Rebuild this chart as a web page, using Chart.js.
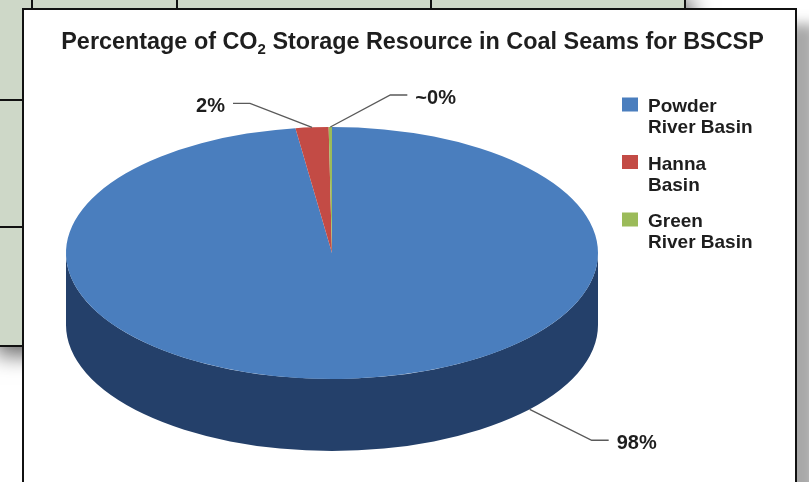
<!DOCTYPE html>
<html>
<head>
<meta charset="utf-8">
<title>CO2 Storage Resource in Coal Seams for BSCSP</title>
<script src="https://cdn.jsdelivr.net/npm/chart.js@4.4.1/dist/chart.umd.min.js"></script>
<style>
  html, body { margin: 0; padding: 0; }
  body {
    width: 809px; height: 482px; overflow: hidden; position: relative;
    background: #fff; font-family: "Liberation Sans", Arial, sans-serif;
  }
  /* the report table lying behind the figure */
  .table {
    position: absolute; left: -10px; top: -10px; width: 696px; height: 357px;
    box-sizing: border-box; background: #ced8c8; border: 2px solid #111;
    box-shadow: 6px 8px 20px rgba(0, 0, 0, 0.6);
  }
  .vline { position: absolute; top: 0; width: 2px; height: 24px; background: #111; }
  .hline { position: absolute; left: 0; width: 40px; height: 2px; background: #111; }
  .box {
    position: absolute; left: 22px; top: 8px; width: 775px; height: 520px;
    box-sizing: border-box; background: #fff; border: 2px solid #111;
    box-shadow: 20px 16px 12px rgba(0, 0, 0, 0.34);
  }
  .box canvas { position: absolute; left: 0; top: 0; }
</style>
</head>
<body>
<div class="table">
  <div class="vline" style="left:39px"></div>
  <div class="vline" style="left:184px"></div>
  <div class="vline" style="left:438px"></div>
  <div class="hline" style="top:107px"></div>
  <div class="hline" style="top:234px"></div>
</div>
<div class="box">
  <canvas id="chart" width="771" height="472"></canvas>
</div>
<script>
// Share of the coal-seam CO2 storage resource by basin (percent)
const basins = [['Powder', 'River Basin'], ['Hanna', 'Basin'], ['Green', 'River Basin']];
const shares = [98, 2, 0.2];

const topColors = ['#4a7ebe', '#c34b45', '#9bbb59'];
const sideColors = ['#24406a', '#7a2a27', '#5f7a30'];
const inkColor = '#1e1e1e';

const DEPTH = 72;                       // thickness of the pie wall
const calloutAngles = [42, null, null]; // degrees on the base rim; null = slice middle on top rim
const calloutOffsets = [[62, 31], [-62, -24], [60, -32]];

function percentText(v) {
  return v < 0.5 ? '~0%' : Math.round(v) + '%';
}

function pieGeometry(chart) {
  const area = chart.chartArea;
  const rx = (area.right - area.left) / 2;
  const ry = (area.bottom - area.top - DEPTH) / 2;
  return { cx: (area.left + area.right) / 2, cy: area.top + ry, rx: rx, ry: ry };
}

// squash the library's circular pie into the tilted ellipse
function tilt(ctx, chart, g) {
  const arc = chart.getDatasetMeta(0).data[0];
  ctx.translate(g.cx, g.cy);
  ctx.scale(g.rx / arc.outerRadius, g.ry / arc.outerRadius);
  ctx.translate(-arc.x, -arc.y);
}

const pie3d = {
  id: 'pie3d',
  beforeDatasetsDraw(chart) {
    const ctx = chart.ctx;
    const g = pieGeometry(chart);
    const arcs = chart.getDatasetMeta(0).data;
    // wall: only the front half (0..PI) of each slice can be seen
    arcs.forEach((arc, i) => {
      [-2 * Math.PI, 0, 2 * Math.PI].forEach(off => {
        const lo = Math.max(arc.startAngle, off);
        const hi = Math.min(arc.endAngle, off + Math.PI);
        if (hi <= lo) return;
        ctx.beginPath();
        ctx.ellipse(g.cx, g.cy, g.rx, g.ry, 0, lo, hi);
        ctx.ellipse(g.cx, g.cy + DEPTH, g.rx, g.ry, 0, hi, lo, true);
        ctx.closePath();
        ctx.fillStyle = sideColors[i];
        ctx.fill();
      });
    });
    // top face is drawn by Chart.js inside this transform
    ctx.save();
    tilt(ctx, chart, g);
  },
  afterDatasetsDraw(chart) {
    chart.ctx.restore();
  }
};

const callouts = {
  id: 'callouts',
  afterDraw(chart) {
    const ctx = chart.ctx;
    const g = pieGeometry(chart);
    const arcs = chart.getDatasetMeta(0).data;
    ctx.save();
    ctx.font = 'bold 20px "Liberation Sans", Arial, sans-serif';
    ctx.textBaseline = 'middle';
    arcs.forEach((arc, i) => {
      let ax, ay;
      if (calloutAngles[i] !== null) {
        const a = calloutAngles[i] * Math.PI / 180;
        ax = g.cx + g.rx * Math.cos(a);
        ay = g.cy + DEPTH + g.ry * Math.sin(a);
      } else {
        const a = (arc.startAngle + arc.endAngle) / 2;
        ax = g.cx + g.rx * Math.cos(a);
        ay = g.cy + g.ry * Math.sin(a);
      }
      const ex = ax + calloutOffsets[i][0];
      const ey = ay + calloutOffsets[i][1];
      const dir = calloutOffsets[i][0] > 0 ? 1 : -1;
      const sx = ex + dir * 17;

      ctx.beginPath();
      ctx.moveTo(ax, ay);
      ctx.lineTo(ex, ey);
      ctx.lineTo(sx, ey);
      ctx.strokeStyle = '#5a5a5a';
      ctx.lineWidth = 1.4;
      ctx.stroke();

      ctx.fillStyle = inkColor;
      ctx.textAlign = dir > 0 ? 'left' : 'right';
      ctx.fillText(percentText(shares[i]), sx + dir * 8, ey + 3);
    });
    ctx.restore();
  }
};

const sideLegend = {
  id: 'sideLegend',
  afterDraw(chart) {
    const ctx = chart.ctx;
    const x = 598, top = 102, lineH = 21, pitch = 57.5;
    ctx.save();
    ctx.font = 'bold 19px "Liberation Sans", Arial, sans-serif';
    ctx.textBaseline = 'alphabetic';
    ctx.textAlign = 'left';
    chart.data.labels.forEach((lines, i) => {
      const y = top + i * pitch;
      ctx.fillStyle = chart.data.datasets[0].backgroundColor[i];
      ctx.fillRect(x, y - 14.5, 16, 14);
      ctx.fillStyle = inkColor;
      lines.forEach((t, j) => ctx.fillText(t, x + 26, y + j * lineH));
    });
    ctx.restore();
  }
};

// title with the subscript in CO2
const subTitle = {
  id: 'subTitle',
  afterDraw(chart) {
    const ctx = chart.ctx;
    const big = 'bold 23.4px "Liberation Sans", Arial, sans-serif';
    const parts = [
      { t: 'Percentage of CO', font: big, dy: 0 },
      { t: '2', font: 'bold 15px "Liberation Sans", Arial, sans-serif', dy: 5 },
      { t: ' Storage Resource in Coal Seams for BSCSP', font: big, dy: 0 }
    ];
    ctx.save();
    ctx.fillStyle = inkColor;
    ctx.textAlign = 'left';
    ctx.textBaseline = 'alphabetic';
    let total = 0;
    parts.forEach(p => { ctx.font = p.font; p.w = ctx.measureText(p.t).width; total += p.w; });
    let x = chart.width / 2 + 3 - total / 2;
    parts.forEach(p => {
      ctx.font = p.font;
      ctx.fillText(p.t, x, 39 + p.dy);
      x += p.w;
    });
    ctx.restore();
  }
};

new Chart(document.getElementById('chart'), {
  type: 'pie',
  data: {
    labels: basins,
    datasets: [{
      data: shares,
      backgroundColor: topColors,
      borderWidth: 0,
      clip: false
    }]
  },
  options: {
    responsive: false,
    animation: false,
    devicePixelRatio: 1,
    events: [],
    layout: { padding: { left: 42, right: 197, top: 117, bottom: 31 } },
    plugins: {
      legend: { display: false },
      title: { display: false },
      tooltip: { enabled: false }
    }
  },
  plugins: [pie3d, callouts, sideLegend, subTitle]
});
</script>
</body>
</html>
